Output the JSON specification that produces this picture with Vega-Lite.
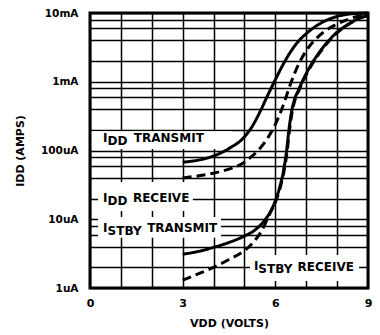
{
  "$schema": "https://vega.github.io/schema/vega-lite/v6.json",
  "autosize": {"type": "none"},
  "padding": {"left": 90, "top": 13, "right": 12, "bottom": 47},
  "width": 278,
  "height": 275,
  "background": "white",
  "config": {
    "view": {"stroke": "black", "strokeWidth": 3},
    "font": "DejaVu Sans"
  },
  "datasets": {
    "curves": [
      {"series": "IDD TRANSMIT", "style": "solid", "x": 3.0, "y": 0.0000676},
      {"series": "IDD TRANSMIT", "style": "solid", "x": 3.5, "y": 0.0000724},
      {"series": "IDD TRANSMIT", "style": "solid", "x": 4.0, "y": 0.0000832},
      {"series": "IDD TRANSMIT", "style": "solid", "x": 4.5, "y": 0.000107},
      {"series": "IDD TRANSMIT", "style": "solid", "x": 5.0, "y": 0.000158},
      {"series": "IDD TRANSMIT", "style": "solid", "x": 5.25, "y": 0.000224},
      {"series": "IDD TRANSMIT", "style": "solid", "x": 5.5, "y": 0.000363},
      {"series": "IDD TRANSMIT", "style": "solid", "x": 5.75, "y": 0.000631},
      {"series": "IDD TRANSMIT", "style": "solid", "x": 6.0, "y": 0.00107},
      {"series": "IDD TRANSMIT", "style": "solid", "x": 6.25, "y": 0.00178},
      {"series": "IDD TRANSMIT", "style": "solid", "x": 6.5, "y": 0.00275},
      {"series": "IDD TRANSMIT", "style": "solid", "x": 6.75, "y": 0.00389},
      {"series": "IDD TRANSMIT", "style": "solid", "x": 7.0, "y": 0.00501},
      {"series": "IDD TRANSMIT", "style": "solid", "x": 7.5, "y": 0.00724},
      {"series": "IDD TRANSMIT", "style": "solid", "x": 8.0, "y": 0.00891},
      {"series": "IDD TRANSMIT", "style": "solid", "x": 8.5, "y": 0.00977},
      {"series": "IDD TRANSMIT", "style": "solid", "x": 9.0, "y": 0.01},

      {"series": "IDD RECEIVE", "style": "dashed", "x": 3.0, "y": 0.0000398},
      {"series": "IDD RECEIVE", "style": "dashed", "x": 3.5, "y": 0.0000427},
      {"series": "IDD RECEIVE", "style": "dashed", "x": 4.0, "y": 0.0000468},
      {"series": "IDD RECEIVE", "style": "dashed", "x": 4.5, "y": 0.0000537},
      {"series": "IDD RECEIVE", "style": "dashed", "x": 5.0, "y": 0.0000676},
      {"series": "IDD RECEIVE", "style": "dashed", "x": 5.25, "y": 0.0000832},
      {"series": "IDD RECEIVE", "style": "dashed", "x": 5.5, "y": 0.000107},
      {"series": "IDD RECEIVE", "style": "dashed", "x": 5.75, "y": 0.000151},
      {"series": "IDD RECEIVE", "style": "dashed", "x": 6.0, "y": 0.00024},
      {"series": "IDD RECEIVE", "style": "dashed", "x": 6.25, "y": 0.000447},
      {"series": "IDD RECEIVE", "style": "dashed", "x": 6.5, "y": 0.000955},
      {"series": "IDD RECEIVE", "style": "dashed", "x": 6.75, "y": 0.00178},
      {"series": "IDD RECEIVE", "style": "dashed", "x": 7.0, "y": 0.00282},
      {"series": "IDD RECEIVE", "style": "dashed", "x": 7.5, "y": 0.00501},
      {"series": "IDD RECEIVE", "style": "dashed", "x": 8.0, "y": 0.00692},
      {"series": "IDD RECEIVE", "style": "dashed", "x": 8.5, "y": 0.00851},
      {"series": "IDD RECEIVE", "style": "dashed", "x": 9.0, "y": 0.00977},

      {"series": "ISTBY TRANSMIT", "style": "solid", "x": 3.0, "y": 0.0000031},
      {"series": "ISTBY TRANSMIT", "style": "solid", "x": 3.5, "y": 0.0000034},
      {"series": "ISTBY TRANSMIT", "style": "solid", "x": 4.0, "y": 0.0000039},
      {"series": "ISTBY TRANSMIT", "style": "solid", "x": 4.5, "y": 0.0000046},
      {"series": "ISTBY TRANSMIT", "style": "solid", "x": 5.0, "y": 0.00000569},
      {"series": "ISTBY TRANSMIT", "style": "solid", "x": 5.3, "y": 0.00000676},
      {"series": "ISTBY TRANSMIT", "style": "solid", "x": 5.55, "y": 0.00000851},
      {"series": "ISTBY TRANSMIT", "style": "solid", "x": 5.8, "y": 0.000012},
      {"series": "ISTBY TRANSMIT", "style": "solid", "x": 6.0, "y": 0.0000186},
      {"series": "ISTBY TRANSMIT", "style": "solid", "x": 6.15, "y": 0.0000302},
      {"series": "ISTBY TRANSMIT", "style": "solid", "x": 6.27, "y": 0.0000525},
      {"series": "ISTBY TRANSMIT", "style": "solid", "x": 6.36, "y": 0.0000955},
      {"series": "ISTBY TRANSMIT", "style": "solid", "x": 6.44, "y": 0.0002},
      {"series": "ISTBY TRANSMIT", "style": "solid", "x": 6.52, "y": 0.000355},
      {"series": "ISTBY TRANSMIT", "style": "solid", "x": 6.62, "y": 0.00055},
      {"series": "ISTBY TRANSMIT", "style": "solid", "x": 6.75, "y": 0.000759},
      {"series": "ISTBY TRANSMIT", "style": "solid", "x": 6.9, "y": 0.00107},
      {"series": "ISTBY TRANSMIT", "style": "solid", "x": 7.1, "y": 0.00159},
      {"series": "ISTBY TRANSMIT", "style": "solid", "x": 7.35, "y": 0.0024},
      {"series": "ISTBY TRANSMIT", "style": "solid", "x": 7.6, "y": 0.00339},
      {"series": "ISTBY TRANSMIT", "style": "solid", "x": 7.9, "y": 0.00479},
      {"series": "ISTBY TRANSMIT", "style": "solid", "x": 8.3, "y": 0.00661},
      {"series": "ISTBY TRANSMIT", "style": "solid", "x": 8.7, "y": 0.00832},
      {"series": "ISTBY TRANSMIT", "style": "solid", "x": 9.0, "y": 0.00933},

      {"series": "ISTBY RECEIVE", "style": "dashed", "x": 3.0, "y": 0.0000013},
      {"series": "ISTBY RECEIVE", "style": "dashed", "x": 3.5, "y": 0.0000016},
      {"series": "ISTBY RECEIVE", "style": "dashed", "x": 4.0, "y": 0.000002},
      {"series": "ISTBY RECEIVE", "style": "dashed", "x": 4.5, "y": 0.0000026},
      {"series": "ISTBY RECEIVE", "style": "dashed", "x": 5.0, "y": 0.0000035},
      {"series": "ISTBY RECEIVE", "style": "dashed", "x": 5.3, "y": 0.0000047},
      {"series": "ISTBY RECEIVE", "style": "dashed", "x": 5.55, "y": 0.0000067},
      {"series": "ISTBY RECEIVE", "style": "dashed", "x": 5.82, "y": 0.000012},
      {"series": "ISTBY RECEIVE", "style": "dashed", "x": 6.02, "y": 0.0000186},
      {"series": "ISTBY RECEIVE", "style": "dashed", "x": 6.17, "y": 0.0000302},
      {"series": "ISTBY RECEIVE", "style": "dashed", "x": 6.29, "y": 0.0000525},
      {"series": "ISTBY RECEIVE", "style": "dashed", "x": 6.38, "y": 0.0000955},
      {"series": "ISTBY RECEIVE", "style": "dashed", "x": 6.46, "y": 0.0002},
      {"series": "ISTBY RECEIVE", "style": "dashed", "x": 6.54, "y": 0.000355},
      {"series": "ISTBY RECEIVE", "style": "dashed", "x": 6.64, "y": 0.00055},
      {"series": "ISTBY RECEIVE", "style": "dashed", "x": 6.77, "y": 0.000759},
      {"series": "ISTBY RECEIVE", "style": "dashed", "x": 6.92, "y": 0.00107},
      {"series": "ISTBY RECEIVE", "style": "dashed", "x": 7.12, "y": 0.00159},
      {"series": "ISTBY RECEIVE", "style": "dashed", "x": 7.37, "y": 0.0024},
      {"series": "ISTBY RECEIVE", "style": "dashed", "x": 7.62, "y": 0.00339},
      {"series": "ISTBY RECEIVE", "style": "dashed", "x": 7.92, "y": 0.00479},
      {"series": "ISTBY RECEIVE", "style": "dashed", "x": 8.32, "y": 0.00661},
      {"series": "ISTBY RECEIVE", "style": "dashed", "x": 8.72, "y": 0.00832},
      {"series": "ISTBY RECEIVE", "style": "dashed", "x": 9.0, "y": 0.0092}
    ],
    "boxes": [
      {"box": "IDD TRANSMIT", "x": 0.06, "xe": 4.6, "y": 0.000105, "ye": 0.00019},
      {"box": "IDD RECEIVE", "x": 0.26, "xe": 3.33, "y": 0.0000132, "ye": 0.0000348},
      {"box": "ISTBY TRANSMIT", "x": 0.26, "xe": 4.24, "y": 0.0000054, "ye": 0.0000108},
      {"box": "ISTBY RECEIVE", "x": 5.18, "xe": 8.71, "y": 0.00000126, "ye": 0.00000302}
    ],
    "labels": [
      {"t": "I", "x": 0.42, "y": 0.000133},
      {"t": "DD", "x": 0.57, "y": 0.00012},
      {"t": "TRANSMIT", "x": 1.42, "y": 0.000133},
      {"t": "I", "x": 0.42, "y": 0.0000178},
      {"t": "DD", "x": 0.57, "y": 0.0000161},
      {"t": "RECEIVE", "x": 1.39, "y": 0.0000178},
      {"t": "I", "x": 0.42, "y": 0.00000653},
      {"t": "STBY", "x": 0.57, "y": 0.0000059},
      {"t": "TRANSMIT", "x": 1.85, "y": 0.00000653},
      {"t": "I", "x": 5.31, "y": 0.00000183},
      {"t": "STBY", "x": 5.45, "y": 0.00000165},
      {"t": "RECEIVE", "x": 6.72, "y": 0.00000177}
    ]
  },
  "encoding": {
    "x": {
      "field": "x",
      "type": "quantitative",
      "scale": {"domain": [0, 9], "nice": false, "zero": false},
      "axis": {
        "values": [0, 1, 2, 3, 4, 5, 6, 7, 8, 9],
        "labelExpr": "datum.value % 3 == 0 ? datum.label : ''",
        "grid": true,
        "gridColor": "black",
        "gridWidth": 1.5,
        "gridOpacity": 1,
        "ticks": false,
        "domain": false,
        "labelFont": "DejaVu Sans",
        "labelFontWeight": "bold",
        "labelFontSize": 11,
        "labelColor": "black",
        "labelPadding": 9,
        "labelFlush": false,
        "labelOverlap": false,
        "title": "VDD (VOLTS)",
        "titleFont": "DejaVu Sans",
        "titleFontWeight": "bold",
        "titleFontSize": 11,
        "titleColor": "black",
        "titlePadding": 9
      }
    },
    "y": {
      "field": "y",
      "type": "quantitative",
      "scale": {"type": "log", "domain": [0.000001, 0.01], "nice": false},
      "axis": {
        "values": [0.000001, 0.000002, 0.000004, 0.000006, 0.000008, 0.00001, 0.00002, 0.00004, 0.00006, 0.00008, 0.0001, 0.0002, 0.0004, 0.0006, 0.0008, 0.001, 0.002, 0.004, 0.006, 0.008, 0.01],
        "labelExpr": "datum.value < 1.5e-6 ? '1uA' : abs(datum.value - 1e-5) < 1e-7 ? '10uA' : abs(datum.value - 1e-4) < 1e-6 ? '100uA' : abs(datum.value - 1e-3) < 1e-5 ? '1mA' : abs(datum.value - 1e-2) < 1e-4 ? '10mA' : ''",
        "grid": true,
        "gridColor": "black",
        "gridWidth": 1.5,
        "gridOpacity": 1,
        "ticks": false,
        "domain": false,
        "labelFont": "DejaVu Sans",
        "labelFontWeight": "bold",
        "labelFontSize": 10.5,
        "labelColor": "black",
        "labelPadding": 12,
        "labelOverlap": false,
        "labelFlush": false,
        "title": "IDD (AMPS)",
        "titleFont": "DejaVu Sans",
        "titleFontWeight": "bold",
        "titleFontSize": 11,
        "titleColor": "black",
        "titlePadding": 15
      }
    }
  },
  "layer": [
    {
      "data": {"name": "boxes"},
      "mark": {"type": "rect", "fill": "white", "strokeWidth": 0},
      "encoding": {
        "x2": {"field": "xe"},
        "y2": {"field": "ye"}
      }
    },
    {
      "data": {"name": "curves"},
      "mark": {"type": "line", "strokeWidth": 3, "color": "black", "interpolate": "monotone", "strokeCap": "butt"},
      "encoding": {
        "detail": {"field": "series", "type": "nominal"},
        "strokeDash": {
          "field": "style",
          "type": "nominal",
          "scale": {"domain": ["solid", "dashed"], "range": [[1, 0], [9, 5]]},
          "legend": null
        }
      }
    },
    {
      "data": {"name": "labels"},
      "mark": {"type": "text", "align": "left", "baseline": "alphabetic", "fontSize": 12, "fontWeight": "bold", "font": "DejaVu Sans", "color": "black"},
      "encoding": {
        "text": {"field": "t", "type": "nominal"}
      }
    }
  ]
}
